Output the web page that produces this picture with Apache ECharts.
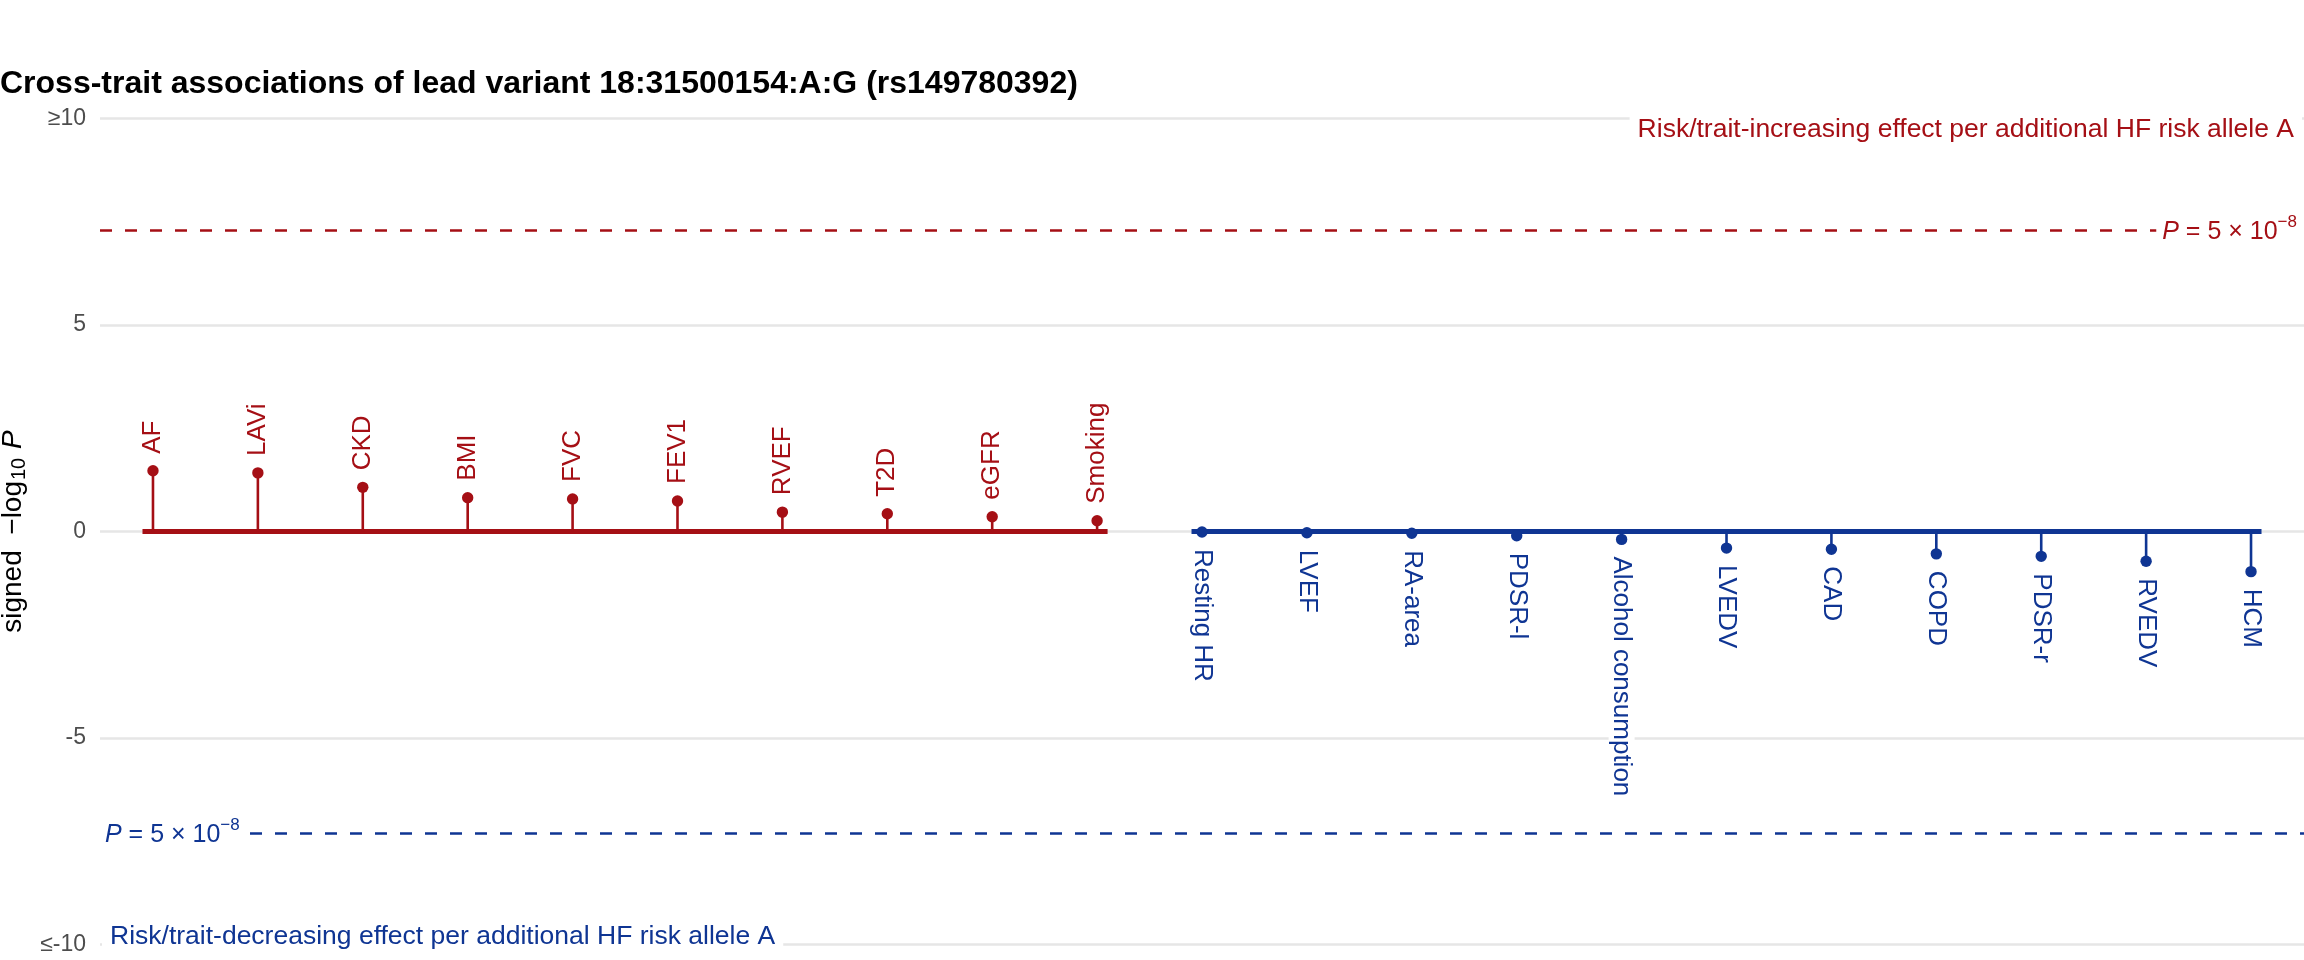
<!DOCTYPE html>
<html>
<head>
<meta charset="utf-8">
<script src="https://cdn.jsdelivr.net/npm/echarts@6/dist/echarts.min.js"></script>
<style>
html,body{margin:0;padding:0;background:#ffffff;}
#chart{width:2304px;height:960px;}
</style>
</head>
<body>
<div id="chart"></div>
<script>
// ---------------- data ----------------
const titleText = 'Cross-trait associations of lead variant 18:31500154:A:G (rs149780392)';
const upTraits = ['AF','LAVi','CKD','BMI','FVC','FEV1','RVEF','T2D','eGFR','Smoking'];
const upValues = [1.47, 1.42, 1.07, 0.82, 0.79, 0.74, 0.47, 0.43, 0.36, 0.26];
const downTraits = ['Resting HR','LVEF','RA-area','PDSR-l','Alcohol consumption','LVEDV','CAD','COPD','PDSR-r','RVEDV','HCM'];
const downValues = [-0.01, -0.03, -0.04, -0.10, -0.19, -0.40, -0.43, -0.54, -0.60, -0.72, -0.97];
const yTickValues = [-10, -5, 0, 5, 10];
const yTickLabels = ['≤-10', '-5', '0', '5', '≥10'];
const gwsThreshold = 7.30103; // -log10(5e-8)
const upNote = 'Risk/trait-increasing effect per additional HF risk allele A';
const downNote = 'Risk/trait-decreasing effect per additional HF risk allele A';

// ---------------- style ----------------
const RED = '#a50f15';
const BLUE = '#0f3593';
const FONT = '"Liberation Sans", Arial, Helvetica, sans-serif';
const BASE_PAD = 0.1;     // baseline extension beyond first/last stem (category units)
const X_EXPAND = 0.505;   // panel expansion (category units)

const nAll = upTraits.length + downTraits.length;
const upData = upValues.map((v, i) => [i, v]);
const downData = downValues.map((v, i) => [upTraits.length + i, v]);

function lollipop(color, names, dir) {
  return function (params, api) {
    const x = api.value(0), v = api.value(1);
    const base = api.coord([x, 0]);
    const tip = api.coord([x, v]);
    return {
      type: 'group',
      children: [
        {type: 'line', shape: {x1: base[0], y1: base[1], x2: tip[0], y2: tip[1]},
         style: {stroke: color, lineWidth: 2.6}},
        {type: 'circle', shape: {cx: tip[0], cy: tip[1], r: 5.7}, style: {fill: color}},
        {type: 'text', x: tip[0], y: tip[1] - dir * 14, rotation: dir * Math.PI / 2,
         style: {text: names[params.dataIndex], x: 0, y: 0, align: 'left', verticalAlign: 'middle',
                 fill: color, fontSize: 26, fontFamily: FONT,
                 backgroundColor: '#ffffff', padding: [0, 3, 0, 3]}}
      ]
    };
  };
}

const chart = echarts.init(document.getElementById('chart'), null, {renderer: 'canvas'});
chart.setOption({
  animation: false,
  backgroundColor: '#ffffff',
  title: {
    text: titleText, left: 0, top: 68, padding: 0,
    textStyle: {fontSize: 32, fontWeight: 'bold', color: '#000000', fontFamily: FONT}
  },
  grid: {left: 100, right: 0, top: 118.4, bottom: 15.3, containLabel: false, outerBoundsMode: 'none'},
  xAxis: {
    type: 'value', min: -X_EXPAND, max: nAll - 1 + X_EXPAND, show: false
  },
  yAxis: {
    type: 'value', min: -10, max: 10, interval: 5,
    axisLine: {show: false}, axisTick: {show: false},
    splitLine: {lineStyle: {color: '#e6e6e6', width: 2.5}},
    axisLabel: {
      formatter: v => yTickLabels[yTickValues.indexOf(v)],
      color: '#4d4d4d', fontSize: 23, margin: 14, fontFamily: FONT
    },
    name: '{t|signed  −log}{s|10}{i| P}',
    nameLocation: 'middle', nameGap: 66, nameRotate: 90,
    nameTextStyle: {
      color: '#000000', fontFamily: FONT,
      rich: {
        t: {fontSize: 28, color: '#000000', fontFamily: FONT},
        s: {fontSize: 20, color: '#000000', fontFamily: FONT, padding: [12, 1, 0, 1]},
        i: {fontSize: 28, color: '#000000', fontFamily: FONT, fontStyle: 'italic'}
      }
    }
  },
  series: [
    {
      type: 'line', silent: true, z: 2, symbol: 'none',
      data: [[-BASE_PAD, 0], [upTraits.length - 1 + BASE_PAD, 0]],
      lineStyle: {color: RED, width: 5},
      markLine: {
        silent: true, symbol: 'none', label: {show: false},
        lineStyle: {color: RED, type: [12, 13], width: 2.5},
        data: [{yAxis: gwsThreshold}]
      }
    },
    {
      type: 'line', silent: true, z: 2, symbol: 'none',
      data: [[upTraits.length - BASE_PAD, 0], [nAll - 1 + BASE_PAD, 0]],
      lineStyle: {color: BLUE, width: 5},
      markLine: {
        silent: true, symbol: 'none', label: {show: false},
        lineStyle: {color: BLUE, type: [12, 13], width: 2.5},
        data: [{yAxis: -gwsThreshold}]
      }
    },
    {type: 'custom', z: 3, silent: true, data: upData, renderItem: lollipop(RED, upTraits, 1)},
    {type: 'custom', z: 3, silent: true, data: downData, renderItem: lollipop(BLUE, downTraits, -1)}
  ]
});

// annotations positioned through the chart's own scales
const yPix = v => chart.convertToPixel({gridIndex: 0}, [0, v])[1];
const pRich = color => ({
  i: {fontSize: 25, fontStyle: 'italic', fill: color, fontFamily: FONT},
  t: {fontSize: 25, fill: color, fontFamily: FONT},
  sup: {fontSize: 17, fill: color, fontFamily: FONT, padding: [0, 0, 20, 0]}
});
const pText = '{i|P}{t| = 5 × 10}{sup|−8}';
chart.setOption({
  graphic: [
    {type: 'text', z: 50, x: 2302, y: yPix(10) + 11,
     style: {text: upNote, fill: RED, fontSize: 26.5, fontFamily: FONT, align: 'right', verticalAlign: 'middle',
             backgroundColor: '#ffffff', padding: [7, 8, 7, 8]}},
    {type: 'text', z: 50, x: 102, y: yPix(-10) - 8,
     style: {text: downNote, fill: BLUE, fontSize: 26.5, fontFamily: FONT, align: 'left', verticalAlign: 'middle',
             backgroundColor: '#ffffff', padding: [7, 8, 7, 8]}},
    {type: 'text', z: 50, x: 2304, y: yPix(gwsThreshold) + 2,
     style: {text: pText, rich: pRich(RED), align: 'right', verticalAlign: 'middle',
             backgroundColor: '#ffffff', padding: [2, 7, 2, 6]}},
    {type: 'text', z: 50, x: 99, y: yPix(-gwsThreshold) + 2,
     style: {text: pText, rich: pRich(BLUE), align: 'left', verticalAlign: 'middle',
             backgroundColor: '#ffffff', padding: [2, 6, 2, 6]}}
  ]
});
</script>
</body>
</html>
